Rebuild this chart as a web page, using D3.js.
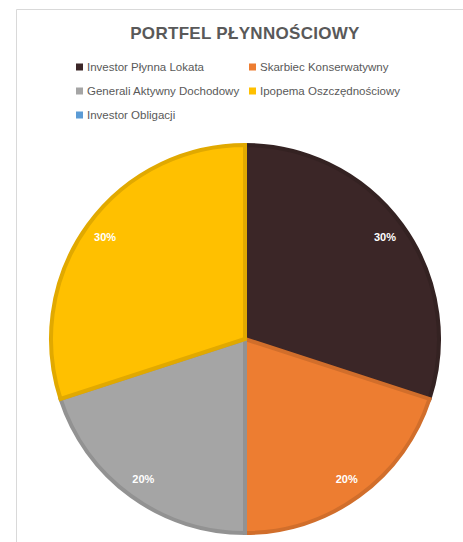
<!DOCTYPE html>
<html>
<head>
<meta charset="utf-8">
<script src="https://cdn.jsdelivr.net/npm/d3@7"></script>
<style>
  body { margin: 0; background: #fff; }
  svg { display: block; font-family: "Liberation Sans", Arial, sans-serif; }
</style>
</head>
<body>
<svg id="chart" width="463" height="542"></svg>
<script>
// chart data
const funds = ["Investor Płynna Lokata", "Skarbiec Konserwatywny", "Generali Aktywny Dochodowy", "Ipopema Oszczędnościowy", "Investor Obligacji"];
const shares = [30, 20, 20, 30, 0];
const fills = ["#3b2627", "#ed7d31", "#a5a5a5", "#ffc000", "#5b9bd5"];
const title = "PORTFEL PŁYNNOŚCIOWY";

let svg = d3.select("#chart");

let dims = {
  cx: 245,
  cy: 339,
  r: 196,
  frameLeft: 16.5,
  frameTop: 9.5,
};

// chart area frame (only left and top visible in the crop)
svg.append("path")
  .attr("d", "M" + dims.frameLeft + ",542 V" + dims.frameTop + " H463")
  .attr("fill", "none")
  .attr("stroke", "#d9d9d9")
  .attr("stroke-width", 1);

svg.append("text")
  .text(title)
  .attr("x", 245)
  .attr("y", 39)
  .attr("text-anchor", "middle")
  .attr("font-size", 17)
  .attr("font-weight", "bold")
  .attr("letter-spacing", 0.3)
  .attr("fill", "#595959");

// legend, two columns
let legendCols = [76, 249];
let legendRows = [67, 91, 115];
let legend = svg.append("g")
  .selectAll("g")
  .data(funds)
  .enter()
  .append("g")
  .attr("transform", (d, i) => "translate(" + legendCols[i % 2] + "," + legendRows[Math.floor(i / 2)] + ")");

legend.append("rect")
  .attr("x", 0)
  .attr("y", -3.5)
  .attr("width", 7)
  .attr("height", 7)
  .attr("fill", (d, i) => fills[i]);

legend.append("text")
  .text(d => d)
  .attr("x", 11)
  .attr("y", 4)
  .attr("font-size", 11.5)
  .attr("fill", "#595959");

// pie
let pie = d3.pie().sort(null).value(d => d);
let arcs = pie(shares).filter(d => d.value > 0);
let arc = d3.arc().innerRadius(0).outerRadius(dims.r - 2);
let labelArc = d3.arc().innerRadius(173).outerRadius(173);

let g = svg.append("g")
  .attr("transform", "translate(" + dims.cx + "," + dims.cy + ")");

g.selectAll("path")
  .data(arcs)
  .enter()
  .append("path")
  .attr("d", arc)
  .attr("fill", d => fills[d.index])
  .attr("stroke", d => d3.color(fills[d.index]).darker(0.35))
  .attr("stroke-width", 4)
  .attr("stroke-linejoin", "miter");

g.selectAll(".lbl")
  .data(arcs)
  .enter()
  .append("text")
  .attr("class", "lbl")
  .attr("transform", d => "translate(" + labelArc.centroid(d) + ")")
  .attr("dy", "0.35em")
  .attr("text-anchor", "middle")
  .attr("font-size", 11)
  .attr("font-weight", "bold")
  .attr("fill", "#ffffff")
  .text(d => d.value + "%");
</script>
</body>
</html>
